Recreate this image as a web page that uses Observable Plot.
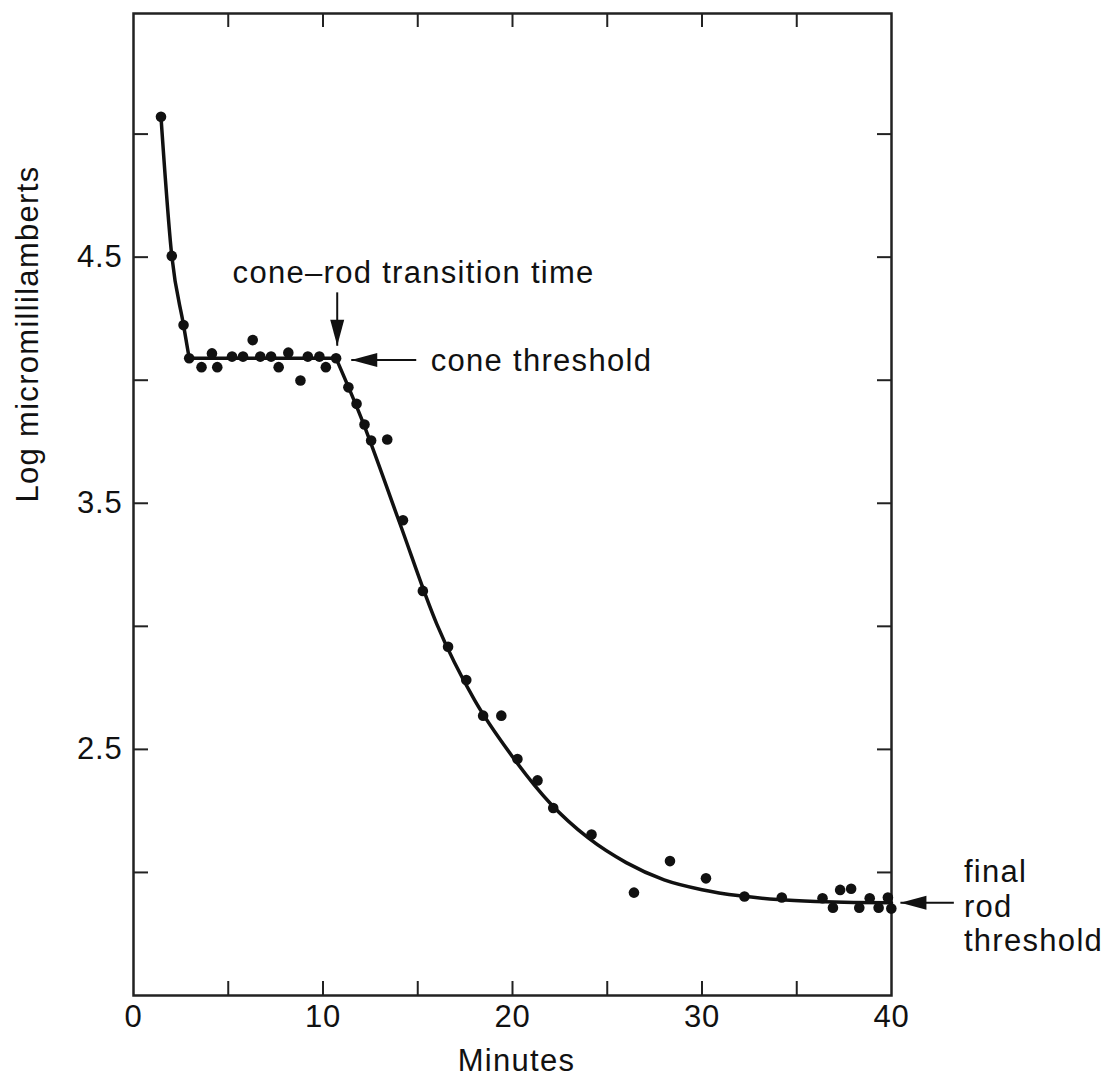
<!DOCTYPE html>
<html><head><meta charset="utf-8">
<script src="https://cdn.jsdelivr.net/npm/d3@7"></script>
<script src="https://cdn.jsdelivr.net/npm/@observablehq/plot@0.6"></script>
<style>
body{margin:0;background:#fff;}
svg text{letter-spacing:1.3px;}
g[aria-label="x-axis tick label"] text, g[aria-label="y-axis tick label"] text{letter-spacing:0.8px;}
</style></head><body><div id="chart"></div>
<script>
// Observed thresholds (dots)
const obsMinutes = [1.45, 2.02, 2.64, 2.94, 3.59, 4.14, 4.42, 5.2, 5.78, 6.29, 6.69, 7.26, 7.66, 8.17, 8.81, 9.2, 9.81, 10.15, 10.69, 11.34, 11.77, 12.19, 12.54, 13.39, 14.22, 15.27, 16.6, 17.56, 18.45, 19.41, 20.26, 21.32, 22.15, 24.17, 26.41, 28.31, 30.21, 32.24, 34.21, 36.36, 36.91, 37.29, 37.87, 38.3, 38.85, 39.32, 39.81, 39.99];
const obsLog = [5.07, 4.505, 4.224, 4.089, 4.053, 4.109, 4.053, 4.096, 4.096, 4.163, 4.096, 4.096, 4.053, 4.112, 3.999, 4.096, 4.096, 4.053, 4.089, 3.971, 3.904, 3.82, 3.755, 3.759, 3.431, 3.144, 2.917, 2.782, 2.637, 2.637, 2.461, 2.374, 2.262, 2.154, 1.918, 2.046, 1.976, 1.902, 1.898, 1.895, 1.857, 1.929, 1.934, 1.857, 1.895, 1.857, 1.898, 1.853];

// Fitted curve, three branches
const fitSegment = ["cone drop","cone drop","cone drop","cone drop","plateau","plateau",
  "rod","rod","rod","rod","rod","rod","rod","rod","rod","rod","rod","rod","rod","rod","rod","rod"];
const fitMinutes = [1.45, 2.02, 2.64, 2.94, 2.94, 10.69,
  10.69, 12, 14, 16, 18, 20, 22, 24, 26, 28, 30, 32, 34, 36, 38, 40];
const fitLog = [5.07, 4.505, 4.224, 4.089, 4.089, 4.089,
  4.089, 3.85, 3.43, 3.01, 2.70, 2.47, 2.28, 2.14, 2.04, 1.97, 1.93, 1.905, 1.89, 1.882, 1.878, 1.877];

// Annotations
const noteText = ["cone\u2013rod transition time", "cone threshold", "final\nrod\nthreshold"];
const noteMinutes = [5.23, 15.68, 43.82];
const noteLog = [4.397, 4.039, 1.681];

// Arrows (tail -> tip)
const arrowX1 = [10.75, 14.92, 43.29];
const arrowY1 = [4.357, 4.082, 1.877];
const arrowX2 = [10.75, 11.49, 40.47];
const arrowY2 = [4.14, 4.082, 1.877];
const arrowAngle = [90, 180, 180];

// Axis ticks
const xTickLabels = [0, 10, 20, 30, 40];
const xMinorTicks = [5, 10, 15, 20, 25, 30, 35];
const yTickLabels = [2.5, 3.5, 4.5];
const yMinorTicks = [2.0, 2.5, 3.0, 3.5, 4.0, 4.5, 5.0];

const W = 1107, H = 1076, mL = 133, mR = 216, mT = 13, mB = 81;
const plotW = W - mL - mR, plotH = H - mT - mB;

const obs = obsMinutes.map((m, i) => ({m, v: obsLog[i]}));
const fit = fitMinutes.map((m, i) => ({m, v: fitLog[i], s: fitSegment[i]}));
const notes = noteText.map((t, i) => ({t, m: noteMinutes[i], v: noteLog[i]}));
const arrows = arrowX1.map((x1, i) => ({x1, y1: arrowY1[i], x2: arrowX2[i], y2: arrowY2[i], a: arrowAngle[i]}));

const arrowHead = {draw(ctx) { ctx.moveTo(0, 0); ctx.lineTo(-26, -7); ctx.lineTo(-26, 7); ctx.closePath(); }};

const chart = Plot.plot({
  width: W, height: H,
  marginLeft: mL, marginRight: mR, marginTop: mT, marginBottom: mB,
  style: {fontFamily: "'Liberation Sans', Arial, sans-serif", fontSize: "31px", color: "#111", background: "#fff"},
  x: {domain: [0, 40]},
  y: {domain: [1.5, 5.49]},
  marks: [
    Plot.tickX(xMinorTicks, {x: d => d, insetTop: plotH - 14, strokeWidth: 2, stroke: "#222"}),
    Plot.tickX(xMinorTicks, {x: d => d, insetBottom: plotH - 14, strokeWidth: 2, stroke: "#222"}),
    Plot.tickY(yMinorTicks, {y: d => d, insetRight: plotW - 15, strokeWidth: 2, stroke: "#222"}),
    Plot.tickY(yMinorTicks, {y: d => d, insetLeft: plotW - 14, strokeWidth: 2, stroke: "#222"}),
    Plot.axisX(xTickLabels, {tickSize: 0, tickPadding: 9, tickFormat: d => String(d)}),
    Plot.axisY(yTickLabels, {tickSize: 0, tickPadding: 11, tickFormat: d => d.toFixed(1), label: null}),
    Plot.frame({stroke: "#222", strokeWidth: 2.5}),
    Plot.line(fit, {x: "m", y: "v", z: "s", curve: "monotone-x", stroke: "#111", strokeWidth: 3.5}),
    Plot.dot(obs, {x: "m", y: "v", r: 5.3, fill: "#111", stroke: null}),
    Plot.link(arrows, {x1: "x1", y1: "y1", x2: "x2", y2: "y2", stroke: "#111", strokeWidth: 2, clip: false}),
    Plot.dot(arrows, {x: "x2", y: "y2", rotate: "a", symbol: arrowHead, fill: "#111", stroke: null}),
    Plot.text(notes, {x: "m", y: "v", text: "t", textAnchor: "start", lineAnchor: "bottom", lineHeight: 1.11, fill: "#111"}),
    Plot.text(["Minutes"], {frameAnchor: "bottom", dy: 75, dx: 4, lineAnchor: "bottom", fill: "#111"}),
    Plot.text(["Log micromillilamberts"], {frameAnchor: "left", dx: -96, dy: -2, rotate: -90, lineAnchor: "bottom", fill: "#111"})
  ]
});
document.getElementById("chart").appendChild(chart);
</script></body></html>
